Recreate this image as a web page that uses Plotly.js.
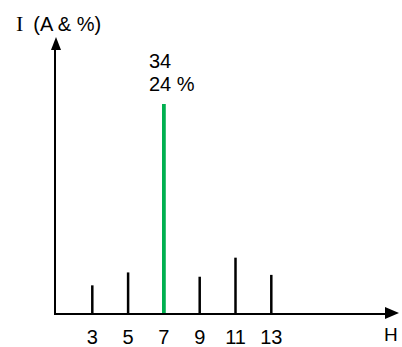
<!DOCTYPE html>
<html>
<head>
<meta charset="utf-8">
<script src="https://cdn.plot.ly/plotly-3.0.1.min.js"></script>
<style>html,body{margin:0;padding:0;background:#fff;}#chart{width:402px;height:347px;}</style>
</head>
<body>
<div id="chart"></div>
<script>
// Data
const harmonics = [3, 5, 7, 9, 11, 13];
const tickLabels = ['3', '5', '7', '9', '11', '13'];
const currents = [4.5, 6.6, 34, 5.9, 9.0, 6.2];
const highlightHarmonic = 7;
const highlightValueLabel = '34';
const highlightPctLabel = '24 %';
const yTitle = '<span style="font-family:\'Liberation Serif\',serif;font-size:22px">I</span>\u2002(A &amp; %)';
const xTitle = 'H';

const FONT = 'Liberation Sans, Arial, sans-serif';
const colors = harmonics.map(h => h === highlightHarmonic ? '#00B050' : '#000000');
const widths = harmonics.map(h => h === highlightHarmonic ? 0.21 : 0.14);
const hi = harmonics.indexOf(highlightHarmonic);

const trace = {
  type: 'bar',
  x: harmonics,
  y: currents,
  width: widths,
  marker: {color: colors, line: {width: 0}},
  hoverinfo: 'skip'
};

const layout = {
  width: 402, height: 347,
  margin: {l: 56, r: 16, t: 50, b: 34, pad: 0},
  paper_bgcolor: '#fff', plot_bgcolor: '#fff',
  showlegend: false,
  font: {family: FONT, color: '#000'},
  title: {
    text: yTitle, font: {family: FONT, size: 20, color: '#000'},
    xref: 'container', x: 16/402, xanchor: 'left',
    yref: 'container', y: 1 - 24/347, yanchor: 'middle'
  },
  xaxis: {
    range: [0.972, 19.408], tickvals: harmonics, ticktext: tickLabels,
    showgrid: false, zeroline: false, showline: true, linecolor: '#000', linewidth: 2,
    ticks: '', ticklabelstandoff: 5, tickfont: {family: FONT, size: 20, color: '#000'}, fixedrange: true
  },
  yaxis: {
    range: [0, 42.78], showticklabels: false, showgrid: false, zeroline: false,
    showline: true, linecolor: '#000', linewidth: 2, ticks: '', fixedrange: true
  },
  shapes: [
    {type: 'path', xref: 'paper', yref: 'paper', xsizemode: 'pixel', ysizemode: 'pixel',
     xanchor: 1, yanchor: 0, path: 'M -1 -6 L 13 0 L -1 6 Z',
     fillcolor: '#000', line: {width: 0}},
    {type: 'path', xref: 'paper', yref: 'paper', xsizemode: 'pixel', ysizemode: 'pixel',
     xanchor: 0, yanchor: 1, path: 'M -5 0 L 0 13 L 5 0 Z',
     fillcolor: '#000', line: {width: 0}}
  ],
  annotations: [
    {x: harmonics[hi], y: currents[hi], xref: 'x', yref: 'y', text: highlightValueLabel,
     showarrow: false, xanchor: 'left', yanchor: 'bottom', xshift: -17, yshift: 30,
     font: {family: FONT, size: 20, color: '#000'}},
    {x: harmonics[hi], y: currents[hi], xref: 'x', yref: 'y', text: highlightPctLabel,
     showarrow: false, xanchor: 'left', yanchor: 'bottom', xshift: -17, yshift: 7,
     font: {family: FONT, size: 20, color: '#000'}},
    {x: 1, y: 0, xref: 'paper', yref: 'paper', text: xTitle, showarrow: false,
     xanchor: 'center', yanchor: 'middle', xshift: 5, yshift: -21,
     font: {family: FONT, size: 19, color: '#000'}}
  ]
};

Plotly.newPlot('chart', [trace], layout, {staticPlot: true, displayModeBar: false});
</script>
</body>
</html>
